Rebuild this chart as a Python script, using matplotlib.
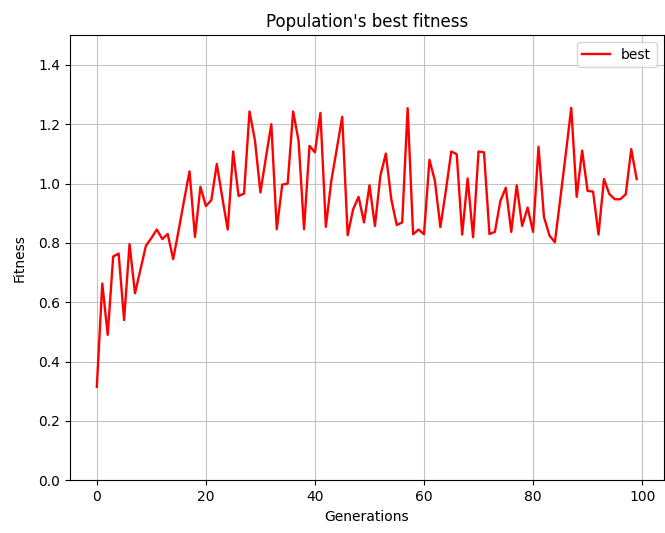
import matplotlib
matplotlib.use("Agg")
import matplotlib.pyplot as plt
import numpy as np

# best fitness per generation
best_fitness = [
    0.315, 0.663, 0.490, 0.754, 0.764, 0.540, 0.796, 0.630, 0.710, 0.790,
    0.816, 0.845, 0.813, 0.830, 0.745, 0.842, 0.943, 1.041, 0.820, 0.989,
    0.924, 0.944, 1.066, 0.954, 0.845, 1.108, 0.958, 0.966, 1.243, 1.145,
    0.970, 1.087, 1.200, 0.846, 0.996, 1.000, 1.243, 1.144, 0.846, 1.127,
    1.105, 1.238, 0.854, 1.009, 1.116, 1.225, 0.826, 0.913, 0.955, 0.869,
    0.994, 0.857, 1.026, 1.101, 0.947, 0.860, 0.869, 1.254, 0.829, 0.845,
    0.829, 1.080, 1.009, 0.853, 0.975, 1.108, 1.099, 0.828, 1.017, 0.819,
    1.108, 1.105, 0.830, 0.837, 0.941, 0.986, 0.837, 0.994, 0.857, 0.919,
    0.837, 1.124, 0.887, 0.825, 0.802, 0.950, 1.100, 1.255, 0.955, 1.111,
    0.975, 0.973, 0.828, 1.015, 0.964, 0.947, 0.947, 0.964, 1.116, 1.015,
]
generations = np.arange(len(best_fitness))

fig, ax = plt.subplots(figsize=(6.65, 5.33), dpi=100)
fig.subplots_adjust(left=0.105, right=0.998, top=0.934, bottom=0.099)

ax.plot(generations, best_fitness, color="red", linewidth=1.7, label="best")
ax.set_ylim(0, 1.5)
ax.set_title("Population's best fitness")
ax.set_xlabel("Generations")
ax.set_ylabel("Fitness", labelpad=8)
ax.grid(True, color="#c4c4c4")
ax.legend(loc="upper right")

fig.savefig("out.png")
